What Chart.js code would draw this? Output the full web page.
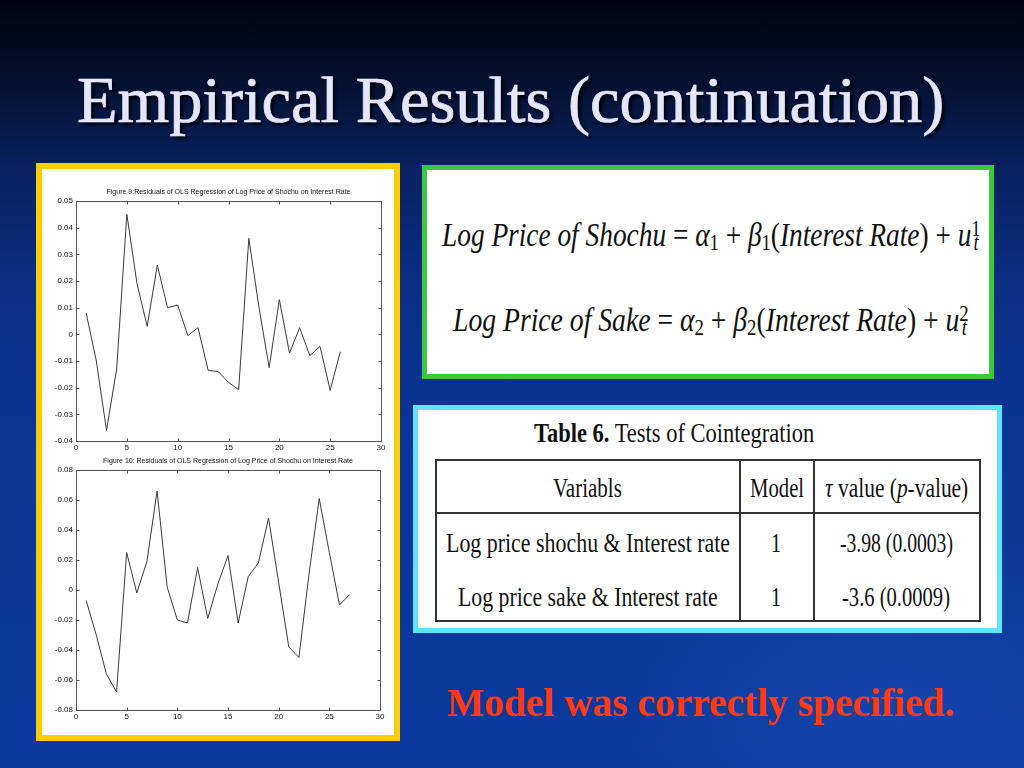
<!DOCTYPE html>
<html>
<head>
<meta charset="utf-8">
<script src="https://cdn.jsdelivr.net/npm/chart.js@4.4.0/dist/chart.umd.min.js"></script>
<style>
  html, body { margin: 0; padding: 0; }
  body { width: 1024px; height: 768px; overflow: hidden; }
  .slide {
    position: relative; width: 1024px; height: 768px; overflow: hidden;
    background:
      radial-gradient(ellipse 420px 260px at 900px 700px, rgba(40, 90, 200, 0.35), rgba(40, 90, 200, 0) 70%),
      linear-gradient(180deg, #00030e 0%, #03102c 10%, #092160 22%, #0b2e82 36%, #0a3594 55%, #0a3a9f 100%);
  }
  .box { position: absolute; background: #fff; box-sizing: border-box; }
  .t {
    position: absolute; white-space: nowrap; line-height: 1;
    font-family: "Liberation Serif", "Times New Roman", serif;
    transform-origin: 0 0; color: #111;
  }
  .t sub, .t sup { line-height: 0; font-size: 0.68em; font-style: normal; }
  .t sub { position: relative; top: 0.15em; vertical-align: baseline; }
  .t sup { position: relative; top: -0.45em; vertical-align: baseline; }
  .rule { position: absolute; background: #333; }
  canvas { position: absolute; }
</style>
</head>
<body>
<div class="slide">
  <div class="t" data-l="77" data-w="867" data-b="122" data-s="66"
       style="color:#e6e6fa; -webkit-text-stroke:0.7px #e6e6fa; text-shadow:3px 3px 3px rgba(0,0,0,0.85);">Empirical Results (continuation)</div>

  <div class="box" style="left:36px; top:163px; width:364px; height:578px; border:6px solid #ffcc00;"></div>
  <canvas id="fig9" width="351" height="269" style="left:42px; top:183px;"></canvas>
  <canvas id="fig10" width="351" height="279" style="left:42px; top:452px;"></canvas>

  <div class="box" style="left:422px; top:165px; width:572px; height:214px; border:5px solid #3cc83c;"></div>
  <div class="t" data-l="442" data-w="537" data-b="247" data-s="33"><i>Log Price of Shochu</i> = <i>α</i><sub>1</sub> + <i>β</i><sub>1</sub>(<i>Interest Rate</i>) + <i>u</i><sup>1</sup><sub style="margin-left:-0.38em;"><i>t</i></sub></div>
  <div class="t" data-l="453" data-w="514" data-b="332" data-s="33"><i>Log Price of Sake</i> = <i>α</i><sub>2</sub> + <i>β</i><sub>2</sub>(<i>Interest Rate</i>) + <i>u</i><sup>2</sup><sub style="margin-left:-0.38em;"><i>t</i></sub></div>

  <div class="box" style="left:413px; top:405px; width:589px; height:228px; border:5px solid #5ee4ff;"></div>
  <div class="t" data-l="534" data-w="280" data-b="443" data-s="27"><b>Table 6.</b> Tests of Cointegration</div>
  <div class="rule" style="left:435px; top:459px; width:546px; height:2px;"></div>
  <div class="rule" style="left:435px; top:512px; width:546px; height:2px;"></div>
  <div class="rule" style="left:435px; top:620px; width:546px; height:2px;"></div>
  <div class="rule" style="left:435px; top:459px; width:2px; height:163px;"></div>
  <div class="rule" style="left:739px; top:459px; width:2px; height:163px;"></div>
  <div class="rule" style="left:813px; top:459px; width:2px; height:163px;"></div>
  <div class="rule" style="left:979px; top:459px; width:2px; height:163px;"></div>
  <div class="t" data-l="553" data-w="69" data-b="497" data-s="28">Variabls</div>
  <div class="t" data-l="750" data-w="54" data-b="497" data-s="28">Model</div>
  <div class="t" data-l="825" data-w="143" data-b="497" data-s="28"><i>τ</i> value (<i>p</i>-value)</div>
  <div class="t" data-l="446" data-w="284" data-b="552" data-s="28">Log price shochu &amp; Interest rate</div>
  <div class="t" data-l="771" data-w="10" data-b="552" data-s="28">1</div>
  <div class="t" data-l="840" data-w="113" data-b="552" data-s="28">-3.98 (0.0003)</div>
  <div class="t" data-l="458" data-w="260" data-b="606" data-s="28">Log price sake &amp; Interest rate</div>
  <div class="t" data-l="771" data-w="10" data-b="606" data-s="28">1</div>
  <div class="t" data-l="842" data-w="108" data-b="606" data-s="28">-3.6 (0.0009)</div>

  <div class="t" data-l="447" data-w="507" data-b="717" data-s="39.5"
       style="color:#ff3a12; font-weight:bold;">Model was correctly specified.</div>
</div>

<script>
// residuals, Figure 9 (observations 1..26)
const obs9 = [1, 2, 3, 4, 5, 6, 7, 8, 9, 10, 11, 12, 13, 14, 15, 16, 17, 18, 19, 20, 21, 22, 23, 24, 25, 26];
const resid9 = [0.008, -0.010, -0.036, -0.013, 0.045, 0.019, 0.003, 0.026, 0.010, 0.011, -0.0005, 0.0025, -0.0135,
                -0.014, -0.018, -0.0208, 0.036, 0.010, -0.0125, 0.013, -0.007, 0.0025, -0.008, -0.0045, -0.021, -0.0065];

// residuals, Figure 10 (observations 1..27)
const obs10 = [1, 2, 3, 4, 5, 6, 7, 8, 9, 10, 11, 12, 13, 14, 15, 16, 17, 18, 19, 20, 21, 22, 23, 24, 25, 26, 27];
const resid10 = [-0.007, -0.030, -0.056, -0.068, 0.025, -0.002, 0.019, 0.066, 0.002, -0.020, -0.022, 0.015, -0.019,
                 0.004, 0.023, -0.022, 0.009, 0.018, 0.048, 0.005, -0.038, -0.045, 0.011, 0.061, 0.025, -0.010, -0.003];

const xTicks = [0, 5, 10, 15, 20, 25, 30];
const yTicks9 = [-0.04, -0.03, -0.02, -0.01, 0, 0.01, 0.02, 0.03, 0.04, 0.05];
const yTicks10 = [-0.08, -0.06, -0.04, -0.02, 0, 0.02, 0.04, 0.06, 0.08];

const title9 = 'Figure 9:Residuals of OLS Regression of Log Price of Shochu on Interest Rate';
const title10 = 'Figure 10: Residuals of OLS Regression of Log Price of Shochu on Interest Rate';

// matlab style frame with inward ticks on all four sides
const boxTicks = {
    id: 'boxTicks',
    afterDraw(chart) {
        const ctx = chart.ctx;
        const a = chart.chartArea;
        const x = chart.scales.x, y = chart.scales.y;
        const l = Math.round(a.left) + 0.5, r = Math.round(a.right) + 0.5;
        const t = Math.round(a.top) + 0.5, b = Math.round(a.bottom) + 0.5;
        ctx.save();
        ctx.strokeStyle = '#555';
        ctx.lineWidth = 1;
        ctx.strokeRect(l, t, r - l, b - t);
        ctx.beginPath();
        x.ticks.forEach((tk, i) => {
            const px = Math.round(x.getPixelForTick(i)) + 0.5;
            ctx.moveTo(px, b); ctx.lineTo(px, b - 3);
            ctx.moveTo(px, t); ctx.lineTo(px, t + 3);
        });
        y.ticks.forEach((tk, i) => {
            const py = Math.round(y.getPixelForTick(i)) + 0.5;
            ctx.moveTo(l, py); ctx.lineTo(l + 3, py);
            ctx.moveTo(r, py); ctx.lineTo(r - 3, py);
        });
        ctx.stroke();
        ctx.restore();
    }
};

function makeChart(id, title, xs, ys, yTicks, padRight, padBottom) {
    const tickFont = { size: 8, family: 'Liberation Sans' };
    return new Chart(document.getElementById(id), {
        type: 'line',
        data: {
            datasets: [{
                data: xs.map((v, i) => ({ x: v, y: ys[i] })),
                borderColor: '#3a3a3a',
                borderWidth: 1,
                pointRadius: 0,
                tension: 0,
                fill: false
            }]
        },
        options: {
            responsive: false,
            animation: false,
            devicePixelRatio: 1,
            layout: { padding: { left: 0, right: padRight, top: 0, bottom: padBottom } },
            plugins: {
                legend: { display: false },
                tooltip: { enabled: false },
                title: {
                    display: true,
                    fullSize: false,
                    text: title,
                    color: '#111',
                    font: { size: 7, family: 'Liberation Sans', weight: 'normal', lineHeight: 1.2 },
                    padding: { top: 5, bottom: 4.6 }
                }
            },
            scales: {
                x: {
                    type: 'linear',
                    min: xTicks[0],
                    max: xTicks[xTicks.length - 1],
                    afterBuildTicks: s => { s.ticks = xTicks.map(v => ({ value: v })); },
                    afterFit: s => { s.height = 10; },
                    grid: { display: false, drawTicks: false, tickLength: 0 },
                    border: { display: false },
                    ticks: { color: '#111', font: tickFont, padding: 2, maxRotation: 0, autoSkip: false }
                },
                y: {
                    min: yTicks[0],
                    max: yTicks[yTicks.length - 1],
                    afterBuildTicks: s => { s.ticks = yTicks.map(v => ({ value: v })); },
                    afterFit: s => { s.width = 34; },
                    grid: { display: false, drawTicks: false, tickLength: 0 },
                    border: { display: false },
                    ticks: {
                        color: '#111', font: tickFont, padding: 3, autoSkip: false,
                        callback: v => (Math.abs(v) < 1e-9 ? '0' : v.toFixed(2))
                    }
                }
            }
        },
        plugins: [boxTicks]
    });
}

makeChart('fig9', title9, obs9, resid9, yTicks9, 12, 1);
makeChart('fig10', title10, obs10, resid10, yTicks10, 13, 11);

// place slide texts on their baselines and stretch them to the measured widths
function fitTexts() {
    document.querySelectorAll('.t').forEach(el => {
        const size = parseFloat(el.dataset.s);
        el.style.fontSize = size + 'px';
        el.style.left = el.dataset.l + 'px';
        el.style.top = (parseFloat(el.dataset.b) - 0.8375 * size) + 'px';
        el.style.transform = 'none';
        const w0 = el.offsetWidth;
        if (w0 > 0) el.style.transform = 'scaleX(' + (parseFloat(el.dataset.w) / w0) + ')';
    });
}
fitTexts();
if (document.fonts) document.fonts.ready.then(fitTexts);
</script>
</body>
</html>
